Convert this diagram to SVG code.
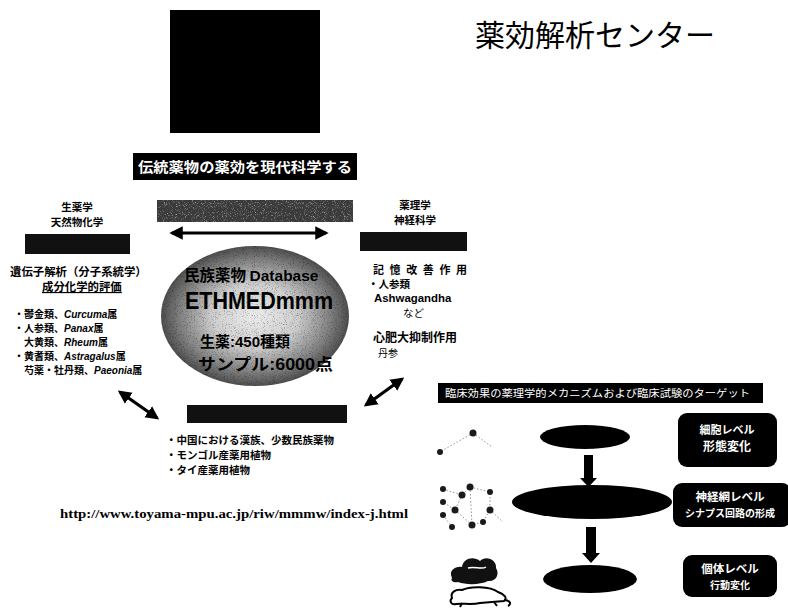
<svg xmlns="http://www.w3.org/2000/svg" width="788" height="612" viewBox="0 0 788 612">
  <style>
    .jp { font-family: "Noto Sans CJK JP", "Noto Sans", sans-serif; }
    .b { font-weight: 700; }
    .lat { font-family: "Liberation Sans", Arial, sans-serif; font-weight: 700; }
    .it { font-style: italic; }
    .w { fill: #ffffff; }
    .k { fill: #000000; }
    .bar { fill: #111111; }
    .conn { stroke: #000; stroke-width: 3.2; fill: none; }
    .box { fill: #000; }
    .ell { fill: #000; }
    .nd { fill: #1a1a1a; }
    .ln { stroke: #777; stroke-width: 0.8; stroke-dasharray: 1.5 2; fill: none; }
  </style>
  <defs>
    <marker id="ah" viewBox="0 0 10 10" refX="8" refY="5" markerWidth="4.2" markerHeight="4.6" orient="auto-start-reverse" markerUnits="strokeWidth">
      <path d="M0,0 L10,5 L0,10 z" fill="#000"/>
    </marker>
    <radialGradient id="eg" cx="50%" cy="50%" r="50%">
      <stop offset="0" stop-color="#ececec"/>
      <stop offset="0.45" stop-color="#cfcfcf"/>
      <stop offset="0.78" stop-color="#868686"/>
      <stop offset="1" stop-color="#4e4e4e"/>
    </radialGradient>
    <!-- sparse speckle texture -->
    <filter id="speck" x="0" y="0" width="100%" height="100%">
      <feTurbulence type="fractalNoise" baseFrequency="1.1" numOctaves="2" seed="5" result="n"/>
      <feColorMatrix in="n" type="matrix" values="0 0 0 0 0  0 0 0 0 0  0 0 0 0 0  0 0 0 3.2 -1.75" result="a"/>
      <feComposite in="SourceGraphic" in2="a" operator="in"/>
    </filter>
  </defs>

  <rect width="788" height="612" fill="#ffffff"/>

  <!-- title and photo block -->
  <g id="photo"><rect x="170" y="10" width="150" height="123" fill="#000"/></g>
  <g id="title"><text class="jp" x="475" y="46" font-size="30" fill="#000">薬効解析センター</text></g>

  <g id="headline">
    <rect x="133" y="153" width="224" height="27" fill="#000"/>
    <text class="jp b w" x="138" y="172" font-size="14" textLength="214" lengthAdjust="spacingAndGlyphs">伝統薬物の薬効を現代科学する</text>
  </g>

  <!-- central database -->
  <g id="db-bar">
    <rect x="157" y="200" width="196" height="22" fill="#3a3a3a"/>
    <rect x="157" y="200" width="196" height="22" fill="#ffffff" opacity="0.55" filter="url(#speck)"/>
  </g>
  <g id="database">
    <ellipse cx="255" cy="316" rx="94" ry="70" fill="url(#eg)"/>
    <ellipse cx="255" cy="316" rx="94" ry="70" fill="#000" opacity="0.35" filter="url(#speck)"/>
    <text class="jp b k" x="184" y="281" font-size="15.5">民族薬物 <tspan class="lat" font-size="15.5">Database</tspan></text>
    <text class="lat k" x="185" y="309" font-size="23" textLength="148" lengthAdjust="spacingAndGlyphs">ETHMEDmmm</text>
    <text class="jp b k" x="200" y="347" font-size="15">生薬<tspan class="lat">:450</tspan>種類</text>
    <text class="jp b k" x="198" y="370" font-size="16" textLength="135" lengthAdjust="spacingAndGlyphs">サンプル<tspan class="lat">:6000</tspan>点</text>
  </g>

  <!-- left column -->
  <g id="pharmacognosy">
    <text class="jp b k" x="77" y="211" font-size="10.5" text-anchor="middle">生薬学</text>
    <text class="jp b k" x="77" y="226" font-size="10.5" text-anchor="middle">天然物化学</text>
    <rect x="25" y="234" width="105" height="20" class="bar"/>
    <text class="jp b k" x="10" y="276" font-size="11.4">遺伝子解析（分子系統学）</text>
    <text class="jp b k" x="42" y="291" font-size="11.4" text-decoration="underline">成分化学的評価</text>
    <text class="jp b k" x="14" y="318" font-size="10">・鬱金類、<tspan class="lat it">Curcuma</tspan>属</text>
    <text class="jp b k" x="14" y="332" font-size="10">・人参類、<tspan class="lat it">Panax</tspan>属</text>
    <text class="jp b k" x="24" y="346" font-size="10">大黄類、<tspan class="lat it">Rheum</tspan>属</text>
    <text class="jp b k" x="14" y="360" font-size="10">・黄耆類、<tspan class="lat it">Astragalus</tspan>属</text>
    <text class="jp b k" x="24" y="374" font-size="10">芍薬・牡丹類、<tspan class="lat it">Paeonia</tspan>属</text>
  </g>

  <!-- right column -->
  <g id="pharmacology">
    <text class="jp b k" x="415" y="209" font-size="10.5" text-anchor="middle">薬理学</text>
    <text class="jp b k" x="415" y="224" font-size="10.5" text-anchor="middle">神経科学</text>
    <rect x="360" y="232" width="107" height="19" class="bar"/>
    <text class="jp b k" x="373" y="274" font-size="11" letter-spacing="5.6">記憶改善作用</text>
    <text class="jp b k" x="368" y="288" font-size="10.5">・人参類</text>
    <text class="lat k" x="374" y="302" font-size="11.4">Ashwagandha</text>
    <text class="jp k" x="403" y="317" font-size="10.5">など</text>
    <text class="jp b k" x="373" y="342" font-size="12">心肥大抑制作用</text>
    <text class="jp k" x="378" y="357" font-size="10">丹参</text>
  </g>

  <!-- bottom column -->
  <g id="ethnomedicine">
    <rect x="187" y="405" width="160" height="18" class="bar"/>
    <text class="jp b k" x="166" y="444" font-size="10.5">・中国における漢族、少数民族薬物</text>
    <text class="jp b k" x="166" y="459" font-size="10.5">・モンゴル産薬用植物</text>
    <text class="jp b k" x="166" y="474" font-size="10.5">・タイ産薬用植物</text>
  </g>

  <g id="url">
    <text x="60" y="518" font-family="Liberation Serif, Times New Roman, serif" font-weight="700" font-size="13.5" textLength="348" lengthAdjust="spacingAndGlyphs" fill="#000">http://www.toyama-mpu.ac.jp/riw/mmmw/index-j.html</text>
  </g>

  <!-- connectors -->
  <g id="connectors">
    <line class="conn" x1="172" y1="233" x2="326" y2="233" marker-start="url(#ah)" marker-end="url(#ah)"/>
    <line class="conn" x1="120" y1="392" x2="157" y2="418" marker-start="url(#ah)" marker-end="url(#ah)"/>
    <line class="conn" x1="366" y1="405" x2="402" y2="379" marker-start="url(#ah)" marker-end="url(#ah)"/>
  </g>

  <!-- research targets panel -->
  <g id="targets-head">
    <rect x="438" y="383" width="325" height="20" fill="#000"/>
    <text class="jp w" x="445" y="397" font-size="10" textLength="305" lengthAdjust="spacingAndGlyphs">臨床効果の薬理学的メカニズムおよび臨床試験のターゲット</text>
  </g>

  <g id="neuron">
    <path class="ln" d="M473,433 L492,447 M473,433 L452,445 L440,452"/>
    <circle class="nd" cx="473" cy="433" r="3.5"/>
    <circle class="nd" cx="440" cy="452" r="3"/>
  </g>
  <g id="network">
    <path class="ln" d="M443,489 L462,495 L470,487 L490,492 M462,495 L455,510 L443,502 M455,510 L472,525 L483,522 L490,510 L490,492 M443,515 L452,527 M470,487 L472,525 M490,510 L503,522"/>
    <circle class="nd" cx="443" cy="489" r="3"/>
    <circle class="nd" cx="462" cy="495" r="3.5"/>
    <circle class="nd" cx="470" cy="487" r="3.5"/>
    <circle class="nd" cx="490" cy="492" r="3"/>
    <circle class="nd" cx="443" cy="502" r="3"/>
    <circle class="nd" cx="455" cy="510" r="3.5"/>
    <circle class="nd" cx="490" cy="510" r="3.5"/>
    <circle class="nd" cx="443" cy="515" r="3"/>
    <circle class="nd" cx="472" cy="525" r="3.5"/>
    <circle class="nd" cx="483" cy="522" r="3"/>
    <circle class="nd" cx="452" cy="527" r="3"/>
  </g>
  <g id="animal">
    <path d="M452,578 C448,570 456,566 462,567 C463,558 474,556 480,561 C486,555 497,560 496,568 C500,574 496,582 488,581 C480,585 466,585 458,582 C454,583 450,581 452,578 z" fill="#111"/>
    <path d="M468,568 C474,566 482,570 486,567" stroke="#fff" stroke-width="1.5" fill="none"/>
    <path d="M452,598 C450,592 456,589 462,590 C470,586 490,586 498,592 C504,594 508,598 504,601 L480,603 C472,605 462,603 456,604 C451,605 449,601 452,598 z" fill="#fff" stroke="#000" stroke-width="2"/>
    <path d="M462,603 L460,607 M494,602 L497,606 M504,600 C510,600 512,604 508,606" stroke="#000" stroke-width="2" fill="none"/>
  </g>

  <g id="level-flow">
    <ellipse class="ell" cx="585" cy="437" rx="45" ry="12"/>
    <ellipse class="ell" cx="592" cy="502" rx="80" ry="17"/>
    <ellipse class="ell" cx="590" cy="579" rx="47" ry="14"/>
  </g>
  <g id="flow-arrows">
    <path d="M584,455 L593,455 L593,478 L597,478 L588.5,487 L580,478 L584,478 z" fill="#000"/>
    <path d="M586,527 L596,527 L596,553 L600,553 L591,563 L582,553 L586,553 z" fill="#000"/>
  </g>

  <g id="level-cell">
    <rect x="678" y="413" width="99" height="54" rx="9" class="box"/>
    <text class="jp b w" x="727" y="434" font-size="11" text-anchor="middle">細胞レベル</text>
    <text class="jp b w" x="727" y="451" font-size="12" text-anchor="middle">形態変化</text>
  </g>
  <g id="level-network">
    <rect x="673" y="483" width="118" height="44" rx="9" class="box"/>
    <text class="jp b w" x="730" y="501" font-size="11.5" text-anchor="middle">神経網レベル</text>
    <text class="jp b w" x="730" y="517" font-size="10" text-anchor="middle">シナプス回路の形成</text>
  </g>
  <g id="level-body">
    <rect x="683" y="555" width="94" height="42" rx="9" class="box"/>
    <text class="jp b w" x="730" y="573" font-size="11.5" text-anchor="middle">個体レベル</text>
    <text class="jp b w" x="730" y="589" font-size="10" text-anchor="middle">行動変化</text>
  </g>
</svg>
